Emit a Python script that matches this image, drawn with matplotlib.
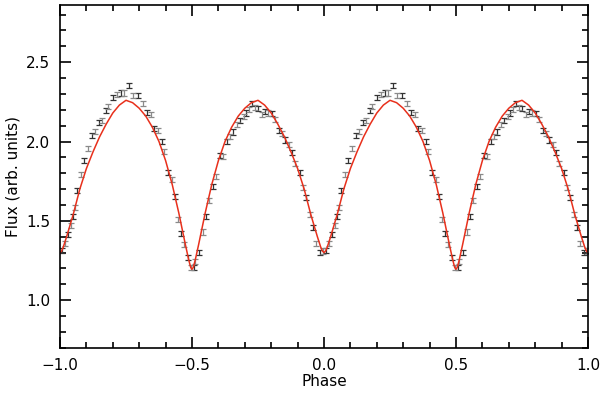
"""Phase-folded light curve with model fit"""

import matplotlib
matplotlib.use("Agg")
import matplotlib.pyplot as plt
import numpy as np
from matplotlib.ticker import MultipleLocator

plt.rcParams["font.family"] = ["DejaVu Sans"]

# one period of binned data (phase -1 .. 0), repeated for 0 .. 1
phase = [
    -0.992, -0.980, -0.970, -0.960, -0.952, -0.944, -0.934, -0.919, -0.908, -0.894,
    -0.880, -0.867, -0.852, -0.842, -0.826, -0.817, -0.798, -0.783, -0.770, -0.758,
    -0.738, -0.722, -0.703, -0.684, -0.672, -0.656, -0.643, -0.630, -0.615, -0.605,
    -0.590, -0.577, -0.564, -0.553, -0.541, -0.530, -0.517, -0.505, -0.494, -0.487,
    -0.475, -0.460, -0.447, -0.434, -0.422, -0.409, -0.393, -0.383, -0.367, -0.357,
    -0.346, -0.330, -0.319, -0.304, -0.294, -0.283, -0.274, -0.261, -0.249, -0.236,
    -0.223, -0.211, -0.198, -0.186, -0.172, -0.159, -0.146, -0.133, -0.121, -0.109,
    -0.092, -0.080, -0.067, -0.054, -0.042, -0.029, -0.014, -0.003,
]
flux = [
    1.315, 1.36, 1.415, 1.47, 1.525, 1.585, 1.694, 1.795, 1.88, 1.956,
    2.04, 2.063, 2.12, 2.13, 2.196, 2.22, 2.277, 2.296, 2.306, 2.306,
    2.354, 2.29, 2.29, 2.24, 2.186, 2.17, 2.08, 2.07, 2.0, 1.94,
    1.806, 1.758, 1.652, 1.51, 1.42, 1.35, 1.27, 1.205, 1.205, 1.245,
    1.30, 1.43, 1.53, 1.63, 1.715, 1.78, 1.91, 1.905, 2.0, 2.03,
    2.06, 2.11, 2.13, 2.155, 2.18, 2.20, 2.239, 2.217, 2.207, 2.171,
    2.19, 2.18, 2.175, 2.14, 2.07, 2.05, 2.01, 1.98, 1.93, 1.86,
    1.805, 1.71, 1.65, 1.54, 1.46, 1.36, 1.30, 1.31,
]
flux_err = 0.016

# model, half period from phase 0 to 0.5 (symmetric about phase 0)
model_p = [0.0, 0.006, 0.0125, 0.025, 0.05, 0.075, 0.10, 0.125, 0.15, 0.175, 0.20,
           0.225, 0.25, 0.275, 0.30, 0.325, 0.35, 0.375, 0.40, 0.425, 0.45,
           0.4625, 0.475, 0.4875, 0.495, 0.50]
model_f = [1.30, 1.31, 1.335, 1.40, 1.54, 1.70, 1.83, 1.935, 2.03, 2.11, 2.18,
           2.23, 2.26, 2.245, 2.21, 2.16, 2.09, 2.00, 1.88, 1.73, 1.55,
           1.45, 1.35, 1.255, 1.207, 1.195]

ph = np.array(phase)
fx = np.array(flux)
ph_all = np.concatenate([ph, ph + 1.0, [1.0]])
fx_all = np.concatenate([fx, fx, [fx[0]]])

mp = np.array(model_p)
mf = np.array(model_f)
half = np.concatenate([-mp[::-1], mp[1:]])          # -0.5 .. 0.5
half_f = np.concatenate([mf[::-1], mf[1:]])
mod_x = np.concatenate([half - 1.0, half[1:], half[1:] + 1.0])
mod_y = np.concatenate([half_f, half_f[1:], half_f[1:]])
keep = (mod_x >= -1.0) & (mod_x <= 1.0)

fig = plt.figure(figsize=(6.0, 3.93), dpi=100)
ax = fig.add_axes([0.1, 0.115, 0.88, 0.872])

colors = ["#333333", "#8a8a8a"]
for i in range(2):
    sel = slice(i, None, 2)
    ax.errorbar(ph_all[sel], fx_all[sel], yerr=flux_err, fmt="none",
                ecolor=colors[i], elinewidth=0.9, capsize=2.2, capthick=0.9)

ax.plot(mod_x[keep], mod_y[keep], color="#e8301c", linewidth=1.1)

ax.set_xlim(-1.0, 1.0)
ax.set_ylim(0.7, 2.86)
ax.xaxis.set_major_locator(MultipleLocator(0.5))
ax.xaxis.set_minor_locator(MultipleLocator(0.1))
ax.yaxis.set_major_locator(MultipleLocator(0.5))
ax.yaxis.set_minor_locator(MultipleLocator(0.1))
ax.tick_params(which="both", direction="in", top=True, right=True, width=1.2,
               labelsize=11, pad=7)
ax.tick_params(which="major", length=8)
ax.tick_params(which="minor", length=4)
ax.xaxis.set_major_formatter(plt.FuncFormatter(lambda v, p: f"{v:.1f}".replace("-", "\u2212")))
ax.yaxis.set_major_formatter(plt.FuncFormatter(lambda v, p: f"{v:.1f}"))
for s in ax.spines.values():
    s.set_linewidth(1.2)

ax.set_xlabel("Phase", fontsize=11, labelpad=1)
ax.set_ylabel("Flux (arb. units)", fontsize=11, labelpad=4)

fig.savefig("out.png", dpi=100)
